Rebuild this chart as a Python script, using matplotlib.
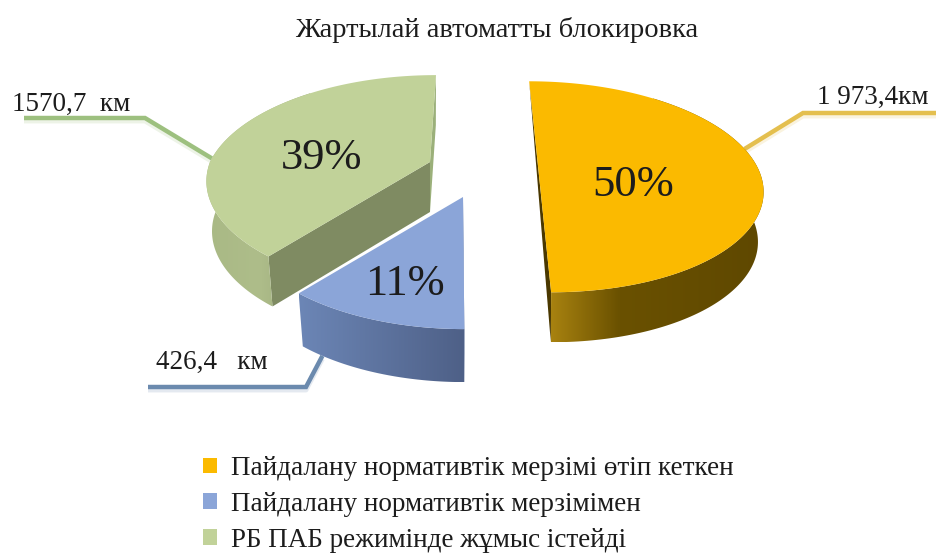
import numpy as np
import matplotlib
matplotlib.use("Agg")
import matplotlib.pyplot as plt
from matplotlib.colors import to_rgb
from matplotlib.patches import Patch, Polygon

# Chart data
title = "Жартылай автоматты блокировка"
categories = [
    "Пайдалану нормативтік мерзімі өтіп кеткен",
    "Пайдалану нормативтік мерзімімен",
    "РБ ПАБ режимінде жұмыс істейді",
]
shares = [50, 11, 39]
lengths = ["1 973,4км", "426,4   км", "1570,7  км"]

# Styling of each slice: top face, cut walls, outer wall gradient, leader line
face_colors = ["#FBBA00", "#8BA5D8", "#C1D299"]
front_cut = ["#4A3800", "#5F76A3", "#7F8B62"]
back_cut = ["#4A3800", "#5F76A3", "#9BB07A"]
wall_stops = [
    [(0.0, "#A88210"), (0.32, "#6A5100"), (1.0, "#5F4800")],
    [(0.0, "#6C86B6"), (1.0, "#4E6087")],
    [(0.0, "#A9B985"), (0.5, "#AEBD8A"), (1.0, "#98A677")],
]
leader_colors = ["#E4BF4E", "#6B8AAE", "#9DC07F"]

# Layout, in figure pixels
centers = [(538, 166), (463, 197), (430, 162)]
lean_up = [0.104, 0.0, -0.069]
lean_down = [0.104, 0.01, 0.04]
size = [0.975, 1.02, 1.0]
rx_scale = [1.02, 0.98, 1.0]
depths = [50.0, 53.0, 50.0]
RX, RY, PERSP = 220.0, 104.0, 0.197
WALL_SHRINK = 0.975
# Upper and lower arc limits of the outer wall that faces the viewer
wall_range = [(40.0, 180.0), (180.0, 220.0), (219.0, 320.0)]
leader_angle = [80.0, 213.5, 272.0]
leader_on_base = [False, True, False]
elbows = [(803, 113), (306, 387), (145, 118)]
leader_ends = [936, 148, 24]
label_pos = [(817, 97), (156, 362), (12, 104)]
pct_pos = [(633, 185), (405, 284), (322, 158)]


def project(theta_deg, i):
    """Project a rim point of the tilted pie; theta runs clockwise from 12 o'clock."""
    th = np.radians(np.asarray(theta_deg, dtype=float))
    u, v = np.sin(th), -np.cos(th)
    s = size[i] / (1 - PERSP * v)
    cx, cy = centers[i]
    dy = RY * v * s
    lean = np.where(dy < 0, lean_up[i], lean_down[i])
    return cx + RX * rx_scale[i] * u * s + lean * dy, cy + dy


def base(x, y, i):
    """Shift a top-face point down to the bottom rim of the slice."""
    cx = centers[i][0]
    return cx + (x - cx) * WALL_SHRINK, y + depths[i]


def draw_wall(ax, xs, ys, stops, zorder):
    """Fill a wall polygon with a left-to-right colour gradient."""
    fracs = [f for f, _ in stops]
    rgb = np.array([to_rgb(c) for _, c in stops])
    t = np.linspace(0, 1, 256)
    strip = np.stack([np.interp(t, fracs, rgb[:, c]) for c in range(3)], axis=-1)[None, :, :]
    outline = Polygon(np.column_stack([xs, ys]), closed=True, fc="none", ec="none",
                      transform=ax.transData)
    ax.add_patch(outline)
    img = ax.imshow(strip, extent=(xs.min(), xs.max(), ys.max(), ys.min()), aspect="auto",
                    interpolation="bilinear", zorder=zorder)
    img.set_clip_path(outline)


fig = plt.figure(figsize=(9.36, 5.54), dpi=100)
ax = fig.add_axes([0, 0, 1, 1])
serif = "Liberation Serif"
ink = "#1c1c1c"

ax.text(497, 30, title, family=serif, fontsize=20.5, color=ink, ha="center", va="center")

edges = np.concatenate([[0], np.cumsum(shares)]) / np.sum(shares) * 360.0

for i, share in enumerate(shares):
    theta = np.linspace(edges[i], edges[i + 1], 181)
    x, y = project(theta, i)
    bx, by = base(x, y, i)
    cx, cy = centers[i]
    apex_bx, apex_by = base(cx, cy, i)

    # Leader line with a faint drop shadow, kept behind the slice
    lx, ly = project(leader_angle[i], i)
    if leader_on_base[i]:
        lx, ly = base(lx, ly, i)
    ex, ey = elbows[i]
    px = [leader_ends[i], ex, float(lx)]
    py = [ey, ey, float(ly)]
    ax.plot(px, np.array(py) + 3, color=leader_colors[i], alpha=0.18, lw=3.5,
            solid_capstyle="butt", zorder=1 + i)
    ax.plot(px, py, color=leader_colors[i], lw=3.2, solid_joinstyle="miter",
            solid_capstyle="butt", zorder=1 + i)

    # Cut walls of the slice
    if i == 0:
        ax.add_patch(Polygon([(x[0], y[0]), (bx[-1], by[-1]), (x[-1], y[-1]), (cx, cy)],
                             closed=True, fc=front_cut[i], ec="none", zorder=5 + i))
    else:
        if i == 2:
            ax.add_patch(Polygon([(x[-1], y[-1]), (cx, cy), (apex_bx, apex_by), (bx[-1], by[-1])],
                                 closed=True, fc=back_cut[i], ec="none", zorder=5 + i))
        ax.add_patch(Polygon([(x[0], y[0]), (cx, cy), (apex_bx, apex_by), (bx[0], by[0])],
                             closed=True, fc=front_cut[i], ec="none", zorder=5 + i))

    # Outer wall, shaded across its width
    lo, hi = wall_range[i]
    keep = (theta >= lo) & (theta <= hi)
    draw_wall(ax, np.r_[x[keep], bx[keep][::-1]], np.r_[y[keep], by[keep][::-1]],
              wall_stops[i], 5 + i)

    # Top face
    ax.add_patch(Polygon(np.column_stack([np.r_[cx, x], np.r_[cy, y]]), closed=True,
                         fc=face_colors[i], ec="none", zorder=8 + i))

    ax.text(*pct_pos[i], f"{share}%", family=serif, fontsize=32, color=ink,
            ha="center", va="center", zorder=20)
    ax.text(*label_pos[i], lengths[i], family=serif, fontsize=19.5, color=ink,
            ha="left", va="center", zorder=20)

ax.set_xlim(0, 936)
ax.set_ylim(554, 0)
ax.axis("off")

handles = [Patch(fc=c, ec="none") for c in face_colors]
ax.legend(handles, categories, loc="upper left", bbox_to_anchor=(203, 456),
          bbox_transform=ax.transData, frameon=False, borderpad=0, borderaxespad=0,
          handlelength=0.52, handleheight=0.52, handletextpad=0.52, labelspacing=0.40,
          labelcolor=ink, prop={"family": serif, "size": 19.5})

fig.savefig("out.png", dpi=100)
